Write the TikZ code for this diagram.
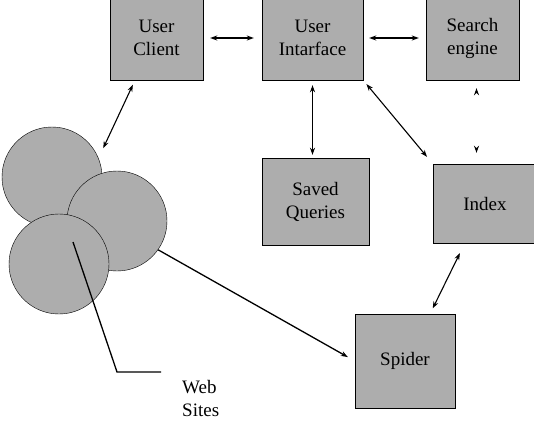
\documentclass[tikz,border=0pt]{standalone}
\usepackage{fontspec}
\setmainfont{Liberation Serif}
\usetikzlibrary{arrows.meta}
\begin{document}
\begin{tikzpicture}[x=1pt,y=-1pt,
  box/.style={rectangle,draw=black,fill=black!32,inner sep=0pt,align=center,font=\fontsize{19}{23}\selectfont},
  site/.style={circle,draw=black,fill=black!32,inner sep=0pt,minimum size=100pt},
  link/.style={<->,line width=1.1pt},
  >={Stealth[length=7pt,width=5pt]}]
\useasboundingbox (0,0) rectangle (534,425);
% Top row
\draw (156.5,38) node(uc)[box,minimum width=93pt,minimum height=84pt] {User\\Client};
\draw (312.5,38) node(ui)[box,minimum width=101pt,minimum height=84pt] {User\\Intarface};
\draw (472.5,38) node(se)[box,minimum width=93pt,minimum height=84pt] {Search\\engine};
% Middle row
\draw (315.5,201.5) node(sq)[box,minimum width=107pt,minimum height=87pt] {Saved\\Queries};
\draw (485,203.5) node(ix)[box,minimum width=104pt,minimum height=79pt] {Index};
% Spider
\draw (405,361) node(sp)[box,minimum width=100pt,minimum height=94pt] {Spider};
% Web sites
\draw (52,177) node(c1)[site] {};
\draw (117,221) node(c2)[site] {};
\draw (59,264) node(c3)[site] {};
\draw (182,398) node(ws)[anchor=west,align=left,inner sep=0pt,font=\fontsize{19}{23}\selectfont] {Web\\Sites};
\coordinate (tip) at (73,242);
\coordinate (bend) at (117,372);
\draw[line width=1.3pt] (tip) -- (bend) -- +(44,0);
% Arrows top row
\draw[link,shorten <=7pt,shorten >=8pt] (uc.east) -- (ui.west);
\draw[link,shorten <=6pt,shorten >=7pt] (ui.east) -- (se.west);
% Arrows down
\draw[link,shorten <=5pt,shorten >=11pt] (uc.243) -- (c1.22);
\draw[link,shorten <=5pt,shorten >=3pt] (ui.south) -- (ui.south |- sq.north);
\draw[link,shorten <=5pt,shorten >=9pt] (ui.south east) -- (ix.north west);
\draw[white,line width=1.1pt,{Stealth[length=7pt,width=5pt,color=black]}-{Stealth[length=7pt,width=5pt,color=black]},shorten <=8pt,shorten >=11pt] ([xshift=4pt]se.south) -- ([xshift=4pt]se.south |- ix.north);
\draw[link,shorten <=11pt,shorten >=6pt] (ix.243) -- (sp.62);
\draw[->,line width=1.3pt,shorten >=8pt] (c2.-35) -- (sp.west);
\end{tikzpicture}
\end{document}
